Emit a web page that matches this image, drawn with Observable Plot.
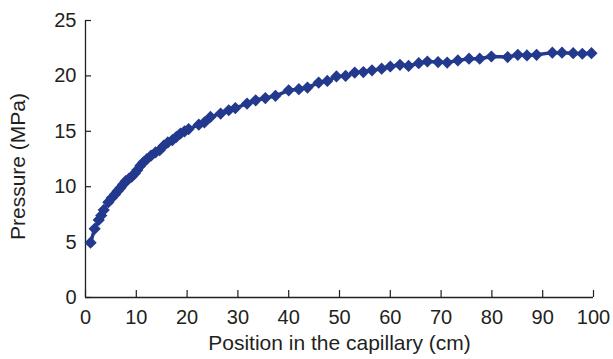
<!DOCTYPE html>
<html>
<head>
<meta charset="utf-8">
<script src="https://cdn.jsdelivr.net/npm/d3@7"></script>
<script src="https://cdn.jsdelivr.net/npm/@observablehq/plot@0.6"></script>
<style>
  html, body { margin: 0; padding: 0; background: #fff; }
  #chart svg { display: block; }
</style>
</head>
<body>
<div id="chart"></div>
<script>
const position = [1, 1.8, 2.6, 3.1, 3.6, 4.5, 5.2, 5.8, 6.3, 6.9, 7.4, 7.9, 8.5, 9.1, 9.7, 10.2, 10.8, 11.4, 12.1, 12.9, 13.8, 14.6, 15.4, 16.2, 17.1, 17.9, 18.7, 19.5, 20.3, 22.3, 23.4, 24.6, 26.6, 28.2, 29.5, 31.8, 33.5, 35.4, 37.4, 40, 42, 43.7, 45.9, 47.6, 49.4, 51.2, 53, 54.7, 56.4, 58.3, 60, 61.9, 63.6, 65.6, 67.3, 69.4, 71.2, 73.3, 75.5, 77.6, 79.9, 83.1, 85.1, 86.9, 88.8, 91.9, 93.8, 96, 97.8, 99.6];
const pressure = [4.95, 6.2, 7.0, 7.4, 7.9, 8.6, 9.0, 9.3, 9.6, 9.9, 10.2, 10.5, 10.7, 10.9, 11.2, 11.5, 11.9, 12.2, 12.5, 12.8, 13.1, 13.3, 13.7, 14.0, 14.2, 14.5, 14.8, 15.0, 15.2, 15.6, 15.8, 16.3, 16.6, 16.9, 17.1, 17.5, 17.8, 18.0, 18.2, 18.7, 18.8, 18.95, 19.4, 19.55, 19.95, 20.0, 20.3, 20.35, 20.5, 20.65, 20.85, 21.0, 20.9, 21.15, 21.3, 21.25, 21.2, 21.4, 21.55, 21.55, 21.75, 21.7, 21.9, 21.85, 21.9, 22.1, 22.1, 22.05, 22.0, 22.05];
const xTicks = [0, 10, 20, 30, 40, 50, 60, 70, 80, 90, 100];
const yTicks = [0, 5, 10, 15, 20, 25];
const xLabel = "Position in the capillary (cm)";
const yLabel = "Pressure (MPa)";

const data = position.map((x, i) => ({x, y: pressure[i]}));
const blue = "#22398e";
const ink = "#231f20";

const chart = Plot.plot({
  width: 613,
  height: 359,
  marginLeft: 85,
  marginRight: 20,
  marginTop: 20,
  marginBottom: 62,
  style: {fontFamily: "'Liberation Sans', Arial, sans-serif", background: "#fff", color: ink},
  x: {domain: [0, 100]},
  y: {domain: [0, 25]},
  marks: [
    Plot.axisX(xTicks, {tickSize: -7, tickPadding: 19, fontSize: 20, stroke: ink, fill: ink, strokeWidth: 1.2, label: null}),
    Plot.axisY(yTicks, {tickSize: -6, tickPadding: 15, fontSize: 20, stroke: ink, fill: ink, strokeWidth: 1.2, label: null}),
    Plot.ruleX([0], {stroke: ink, strokeWidth: 1.3}),
    Plot.ruleY([0], {stroke: ink, strokeWidth: 1.3}),
    Plot.line(data, {x: "x", y: "y", stroke: blue, strokeWidth: 3.5}),
    Plot.dot(data, {x: "x", y: "y", symbol: "diamond2", r: 5.5, fill: blue, stroke: "none"}),
    Plot.text([xLabel], {frameAnchor: "bottom", textAnchor: "middle", dy: 52, fontSize: 21, fill: ink}),
    Plot.text([yLabel], {frameAnchor: "left", textAnchor: "middle", rotate: -90, dx: -67, dy: 7.5, fontSize: 21, fill: ink})
  ]
});
document.getElementById("chart").appendChild(chart);
</script>
</body>
</html>
